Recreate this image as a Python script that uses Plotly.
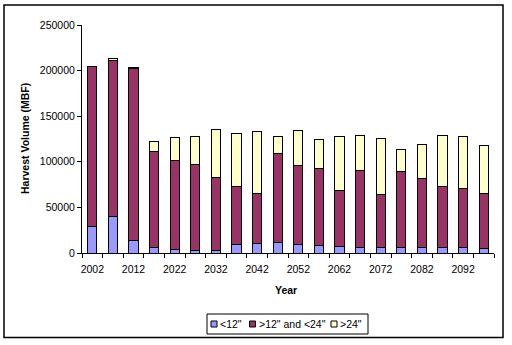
import plotly.graph_objects as go

years = [2002, 2007, 2012, 2017, 2022, 2027, 2032, 2037, 2042, 2047,
         2052, 2057, 2062, 2067, 2072, 2077, 2082, 2087, 2092, 2097]
small = [29500, 40500, 14200, 5500, 3300, 3000, 2200, 9800, 10900, 12000,
         9800, 8750, 7650, 6550, 5500, 5500, 6550, 5500, 5500, 4400]
mid = [174500, 170200, 188300, 105700, 98000, 93900, 80900, 63100, 54700, 97400,
       86500, 84250, 61250, 84250, 59000, 84200, 75450, 67800, 65600, 61200]
large = [1000, 2600, 1000, 11300, 25600, 31100, 52600, 58000, 67400, 18600,
         38300, 31700, 59100, 38300, 61300, 24100, 37200, 55800, 56900, 52600]
names = ['<12"', '>12" and <24"', '>24"']
colors = ["#9999FF", "#993366", "#FFFFCC"]
yticks = [0, 50000, 100000, 150000, 200000, 250000]

# plot-area geometry in pixels (for paper-coordinate conversion of decorations)
L, R, T, B = 82, 494, 25, 253
def px(x):
    return (x - L) / (R - L)
def py(y):
    return (B - y) / (B - T)

fig = go.Figure()
for vals, nm, c in zip([small, mid, large], names, colors):
    fig.add_trace(go.Bar(x=years, y=vals, name=nm, width=2.25, showlegend=False,
                         marker=dict(color=c, line=dict(color="black", width=1))))

font = dict(family="Liberation Sans, Arial, sans-serif", size=10.5, color="black")

shapes = [dict(type="rect", xref="paper", yref="paper",
               x0=px(4), x1=px(503), y0=py(337.5), y1=py(5),
               line=dict(color="black", width=1.5), fillcolor="rgba(0,0,0,0)"),
          dict(type="rect", xref="paper", yref="paper",
               x0=px(207), x1=px(368), y0=py(334), y1=py(314),
               line=dict(color="black", width=1), fillcolor="rgba(0,0,0,0)")]
annotations = [dict(text="<b>Harvest Volume (MBF)</b>", textangle=-90,
                    xref="paper", yref="paper", x=px(25), y=0.5,
                    xanchor="center", yanchor="middle", showarrow=False, font=font),
               dict(text="<b>Year</b>", xref="paper", yref="paper", x=px(286), y=py(290),
                    xanchor="center", yanchor="middle", showarrow=False, font=font)]
sq_x = [211, 249.5, 331]
for sx, nm, c in zip(sq_x, names, colors):
    shapes.append(dict(type="rect", xref="paper", yref="paper",
                       x0=px(sx), x1=px(sx + 6), y0=py(327), y1=py(321),
                       line=dict(color="black", width=1), fillcolor=c))
    annotations.append(dict(text=nm, xref="paper", yref="paper", x=px(sx + 7), y=py(324),
                            xanchor="left", yanchor="middle", showarrow=False, font=font))

fig.update_layout(
    barmode="stack",
    width=512, height=345,
    margin=dict(l=L, r=512 - R, t=T, b=345 - B),
    paper_bgcolor="white", plot_bgcolor="white",
    font=font,
    showlegend=False,
    xaxis=dict(range=[1999.5, 2099.5], tickmode="linear", tick0=2002, dtick=10,
               tickformat="d", ticks="outside", ticklen=6, tickcolor="rgba(0,0,0,0)",
               showline=True, linecolor="black", linewidth=1, automargin=False,
               showgrid=False, zeroline=False,
               minor=dict(tickmode="linear", tick0=1999.5, dtick=5, ticks="outside",
                          ticklen=4, tickcolor="black", showgrid=False)),
    yaxis=dict(range=[0, 250000], tickvals=yticks, tickformat="d",
               ticks="outside", ticklen=4, tickcolor="black", automargin=False,
               showline=True, linecolor="black", linewidth=1,
               showgrid=False, zeroline=False),
    annotations=annotations,
    shapes=shapes,
)
fig.write_html("out.html")
